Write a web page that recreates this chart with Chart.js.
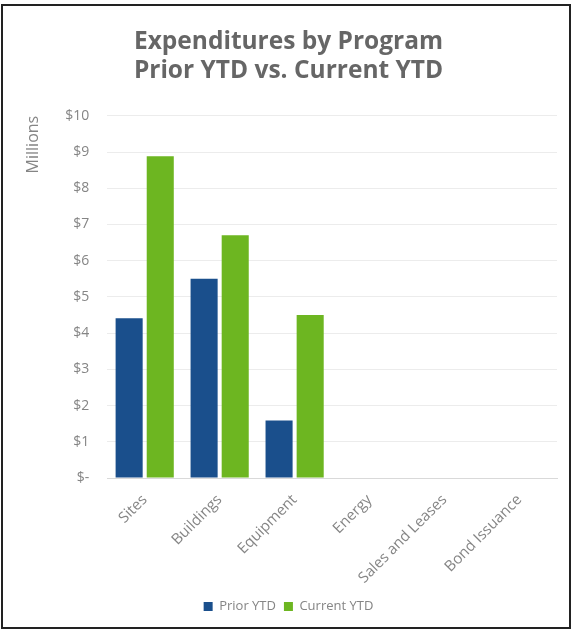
<!DOCTYPE html>
<html>
<head>
<meta charset="utf-8">
<script src="https://cdn.jsdelivr.net/npm/chart.js@4"></script>
<style>
  html, body { margin: 0; padding: 0; background: #fff; }
  .frame {
    position: absolute; left: 1px; top: 4px;
    width: 570px; height: 625px;
    border: 2px solid #222; box-sizing: border-box;
  }
  #wrap { position: absolute; left: 0; top: 0; width: 566px; height: 621px; }
</style>
</head>
<body>
<div class="frame"><div id="wrap"><canvas id="progChart"></canvas></div></div>
<script>
/* ── DATA ──────────────────────────────────────────────────── */
const programs   = ['Sites', 'Buildings', 'Equipment', 'Energy', 'Sales and Leases', 'Bond Issuance'];
const priorYTD   = [4.41, 5.5, 1.59, 0, 0, 0];
const currentYTD = [8.88, 6.7, 4.5, 0, 0, 0];
const yTicks     = [0, 1, 2, 3, 4, 5, 6, 7, 8, 9, 10];

const GREY = '#858585';
const FONT = "'Open Sans', 'Liberation Sans', sans-serif";

/* ── CHART ─────────────────────────────────────────────────── */
const ctx = document.getElementById('progChart');
new Chart(ctx, {
  type: 'bar',
  data: {
    labels: programs,
    datasets: [
      { label: 'Prior YTD',   data: priorYTD,   backgroundColor: '#1a4f8c', borderWidth: 0 },
      { label: 'Current YTD', data: currentYTD, backgroundColor: '#6db621', borderWidth: 0 }
    ]
  },
  options: {
    responsive: true, maintainAspectRatio: false, animation: false,
    layout: { padding: { left: 17, right: 12, top: 21, bottom: 4 } },
    categoryPercentage: 0.83, barPercentage: 0.87,
    plugins: {
      title: {
        display: true,
        text: ['Expenditures by Program', 'Prior YTD vs. Current YTD'],
        color: '#666666',
        font: { family: FONT, size: 24.5, weight: 'bold' },
        padding: { top: 0, bottom: 30 },
        lineHeight: 1.52
      },
      legend: {
        position: 'bottom',
        labels: { color: GREY, font: { family: FONT, size: 13 }, boxWidth: 9, boxHeight: 9, padding: 8 }
      },
      tooltip: { enabled: false }
    },
    scales: {
      x: {
        grid: { display: false },
        border: { color: '#d9d9d9' },
        ticks: { color: GREY, padding: 5, font: { family: FONT, size: 15 }, minRotation: 45, maxRotation: 45 }
      },
      y: {
        min: 0, max: 10,
        afterBuildTicks: axis => { axis.ticks = yTicks.map(v => ({ value: v })); },
        grid: { color: '#ececec', drawTicks: false },
        border: { display: false },
        ticks: {
          color: GREY, padding: 18, font: { family: FONT, size: 14 },
          callback: v => v === 0 ? '$-' : '$' + v
        },
        title: {
          display: true, text: 'Millions', align: 'end',
          color: GREY, font: { family: FONT, size: 16 }, padding: 4
        }
      }
    }
  }
});
</script>
</body>
</html>
